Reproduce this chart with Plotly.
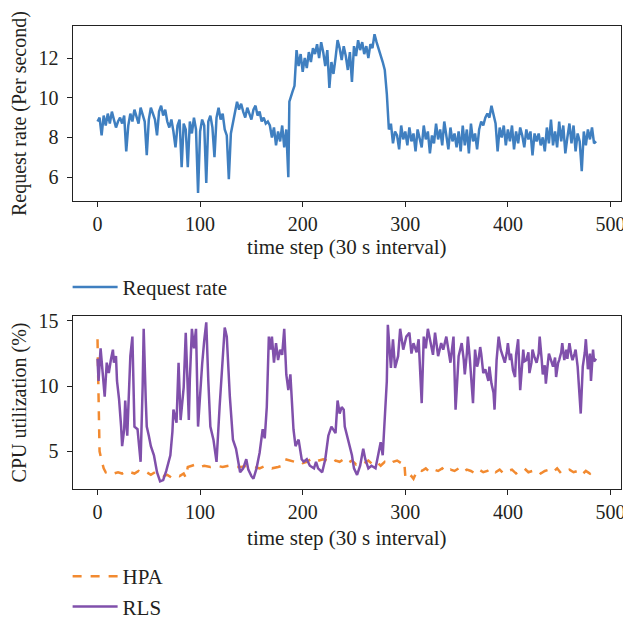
import plotly.graph_objects as go

# ---------------- data ----------------
req_x = list(range(0, 188, 2)) + [187, 188, 190, 192, 194] + list(range(196, 487, 2))
req_x = sorted(set(req_x))
req_y_part1 = [8.8, 9.0, 8.1, 9.1, 8.6, 9.2, 8.7, 9.3, 8.9, 8.5, 8.8, 9.0, 8.7, 9.1, 7.3, 8.6,
               9.2, 8.8, 9.4, 9.0, 8.7, 9.5, 9.2, 8.8, 7.1, 8.9, 9.5, 9.2, 8.9, 8.1, 9.3, 9.6,
               9.1, 9.4, 8.8, 8.5, 8.9, 8.3, 7.5, 8.6, 8.9, 6.5, 8.7, 8.4, 6.5, 8.8, 8.2, 9.0,
               8.4, 5.2, 8.3, 8.9, 8.6, 5.7, 8.8, 9.1, 8.5, 7.0, 9.0, 9.5, 8.9, 9.2, 8.4, 8.1,
               5.9, 8.2, 8.8, 9.2, 9.8, 9.4, 9.7, 9.3, 9.0, 9.5, 9.2, 8.9, 9.4, 9.6, 9.1, 9.3,
               8.8, 9.0, 8.7, 8.8, 8.6, 8.0, 8.5, 7.6, 8.3, 7.8, 8.6, 7.5, 8.4, 6.0]
req_y_part2 = [9.8, 10.0, 10.3, 10.6, 12.4]
req_y_part3 = [11.6, 12.2, 11.3, 12.0, 11.5, 12.3, 11.8, 12.5, 12.2, 12.7, 12.0, 12.8, 12.3, 11.6,
               12.4, 10.5, 11.8, 11.2, 12.0, 12.9, 12.5, 11.9, 12.6, 12.1, 11.4, 12.3, 10.8, 12.6,
               12.1, 12.9, 12.4, 12.8, 12.2, 12.6, 12.0, 12.7, 12.5, 13.2, 12.8, 12.5, 12.1, 11.8,
               11.4, 10.2, 8.4, 8.7, 7.7, 8.3,
               8.1, 7.4, 8.6, 7.9, 8.3, 7.6, 8.5, 7.8, 8.2, 7.3, 8.4, 8.0, 7.5, 8.6, 7.9, 8.3,
               7.2, 8.1, 7.7, 8.7, 7.9, 8.4, 7.6, 8.8, 8.1, 7.4, 8.5, 7.8, 8.2, 7.5, 8.3, 7.3,
               8.6, 7.6, 8.4, 7.2, 8.7, 7.8, 8.2, 7.4, 8.4, 8.8, 8.6, 9.0, 9.2, 9.0, 9.6, 9.1,
               8.7, 7.3, 8.5, 8.0, 8.6, 7.6, 8.4, 7.8, 8.6, 7.4, 8.3, 7.7, 8.5, 8.1, 7.5, 8.4,
               7.9, 8.3, 7.1, 8.2, 7.8, 8.2, 7.6, 8.0, 7.3, 8.5, 7.7, 8.9, 7.6, 8.3, 7.5, 8.8,
               7.8, 8.6, 7.2, 8.0, 8.7, 7.7, 8.6, 7.3, 8.2, 7.8, 6.3, 8.3, 7.6, 8.4, 7.9, 8.5,
               7.7, 7.8]
req_y = req_y_part1 + req_y_part2 + req_y_part3
req_x = req_x[:len(req_y)]

rls_x = [0, 1, 3, 5, 7, 9, 11, 13, 15, 16, 18, 19, 21, 23, 24, 26, 27, 29, 31, 32, 34, 36, 39, 42,
         44, 45, 47, 48, 50, 52, 55, 58, 61, 64, 67, 71, 73, 74, 77, 79, 81, 84, 86, 89, 90, 92,
         94, 96, 98, 100, 102, 104, 106, 108, 110, 113, 116, 119, 122, 124, 126, 129, 132, 135,
         139, 142, 145, 147, 150, 152, 155, 158, 161, 163, 165, 167, 169, 170, 172, 174, 176,
         178, 180, 182, 184, 186, 188, 191, 193, 196, 199, 201, 204, 207, 211, 213, 215, 219,
         222, 225, 228, 232, 234, 236, 238, 240, 241, 244, 248, 250, 253, 256, 259, 261, 264,
         267, 271, 274, 276, 278, 280, 282, 283, 286, 288, 290, 293, 295, 298, 301, 304, 306,
         308, 311, 313, 316, 318, 320, 322, 325, 327, 329, 332, 335, 337, 340, 342, 344, 347,
         349, 352, 355, 357, 358, 360, 361, 363, 366, 368, 370, 371, 373, 374, 376, 378, 381,
         382, 384, 386, 387, 389, 391, 393, 395, 397, 399, 400, 402, 403, 405, 407, 408, 410,
         412, 415, 416, 418, 420, 421, 423, 424, 426, 428, 430, 431, 433, 434, 436, 437, 439,
         440, 442, 444, 446, 447, 449, 450, 452, 453, 455, 457, 458, 460, 462, 463, 465, 466,
         468, 471, 473, 475, 476, 478, 480, 481, 483, 484, 486]
rls_y = [12.1, 10.4, 12.9, 10.9, 9.2, 11.8, 11.0, 12.0, 12.8, 11.8, 12.3, 10.4, 9.0, 6.9, 5.4,
         6.7, 8.9, 6.2, 11.0, 12.3, 13.8, 6.9, 6.7, 4.2, 10.0, 14.4, 9.0, 6.9, 6.2, 5.4, 4.7,
         3.4, 2.7, 2.8, 3.5, 4.7, 6.5, 8.2, 7.2, 11.8, 7.4, 9.9, 14.1, 7.4, 10.5, 14.4, 12.9,
         14.4, 6.9, 9.5, 11.7, 13.5, 14.9, 10.4, 6.9, 5.9, 4.2, 8.4, 12.3, 14.5, 13.8, 9.2, 5.9,
         5.2, 3.4, 3.7, 4.4, 3.6, 3.1, 2.9, 3.7, 4.9, 6.7, 6.0, 8.4, 13.8, 12.8, 13.8, 11.8, 13.3,
         12.0, 12.8, 12.4, 14.4, 10.9, 9.7, 10.9, 6.7, 5.4, 5.9, 4.4, 4.2, 4.4, 3.9, 3.7, 4.2,
         3.7, 3.4, 4.4, 6.2, 6.9, 6.4, 8.9, 7.9, 8.4, 8.2, 6.9, 5.9, 4.7, 3.7, 3.2, 3.9, 5.2,
         4.4, 3.7, 3.9, 3.7, 4.9, 5.7, 4.7, 7.9, 10.4, 14.7, 11.4, 13.6, 11.4, 12.3, 14.4, 12.8,
         13.8, 14.1, 12.5, 13.3, 12.6, 13.6, 8.7, 13.8, 12.9, 14.4, 13.3, 12.4, 14.1, 12.3,
         13.3, 12.8, 13.8, 12.6, 11.8, 13.8, 8.2, 12.3, 13.3, 12.0, 10.9, 12.5, 13.8, 12.0,
         8.7, 12.8, 11.5, 11.8, 13.0, 12.5, 11.0, 11.3, 10.4, 11.5, 10.2, 9.5, 8.2, 12.0, 13.8,
         12.8, 12.2, 11.8, 12.6, 13.3, 12.0, 12.5, 11.2, 10.7, 12.4, 13.6, 9.7, 12.8, 11.9,
         12.0, 12.6, 11.0, 11.8, 12.8, 12.2, 11.8, 12.5, 13.8, 12.0, 10.9, 11.6, 10.2, 11.8,
         12.5, 12.0, 11.5, 12.2, 10.7, 11.8, 12.0, 12.6, 13.3, 12.0, 12.8, 12.1, 13.3, 12.3,
         12.0, 12.5, 12.8, 11.5, 7.9, 11.5, 12.6, 13.6, 11.3, 12.5, 10.4, 12.8, 11.9, 12.1]

hpa_x = [0, 1, 2, 4, 6, 8, 12, 16, 20, 24, 28, 32, 36, 40, 44, 48, 52, 56, 60, 64, 68, 72, 76,
         80, 84, 86, 88, 92, 96, 100, 104, 110, 116, 122, 128, 134, 140, 146, 152, 158, 164,
         170, 176, 180, 183, 188, 192, 196, 200, 204, 208, 212, 216, 220, 224, 228, 232, 236,
         240, 244, 248, 252, 256, 260, 264, 268, 272, 276, 280, 284, 288, 292, 296, 299, 300,
         302, 306, 308, 312, 316, 320, 324, 328, 332, 336, 340, 344, 348, 352, 356, 360, 364,
         368, 372, 376, 380, 384, 388, 392, 396, 400, 404, 408, 412, 416, 420, 424, 428, 432,
         436, 440, 444, 448, 452, 456, 460, 464, 468, 472, 476, 480, 484, 486]
hpa_y = [13.6, 9.0, 5.0, 4.3, 3.7, 3.4, 3.5, 3.3, 3.4, 3.3, 3.5, 3.4, 3.3, 3.5, 3.3, 3.4, 3.2,
         3.4, 3.3, 3.1, 3.2, 3.0, 3.2, 3.1, 3.3, 3.0, 3.8, 3.9, 4.0, 3.8, 3.9, 3.8, 3.9, 3.8,
         3.9, 3.8, 3.8, 3.9, 3.8, 3.7, 3.9, 3.7, 3.8, 3.9, 4.4, 4.3, 4.2, 4.3, 4.1, 4.2, 4.4,
         4.2, 4.3, 4.4, 4.3, 4.1, 4.3, 4.2, 4.4, 4.1, 4.3, 4.0, 4.2, 4.1, 4.3, 4.0, 4.2, 3.9,
         4.2, 4.0, 4.2, 4.3, 4.1, 4.2, 3.1, 2.8, 3.1, 2.9, 3.6, 3.5, 3.7, 3.4, 3.6, 3.5, 3.7,
         3.4, 3.6, 3.5, 3.7, 3.4, 3.6, 3.5, 3.3, 3.6, 3.4, 3.5, 3.7, 3.4, 3.6, 3.3, 3.5, 3.6,
         3.3, 3.5, 3.7, 3.4, 3.5, 3.6, 3.3, 3.5, 3.6, 3.4, 3.7, 3.3, 3.5, 3.6, 3.4, 3.5, 3.2,
         3.5, 3.3, 3.6, 3.4]

x_ticks = [0, 100, 200, 300, 400, 500]
top_y_ticks = [6, 8, 10, 12]
bottom_y_ticks = [5, 10, 15]

# ---------------- figure ----------------
FONT = "Liberation Serif"
TXT = "#231f20"
BLUE = "#3f7fc0"
ORANGE = "#f28a30"
PURPLE = "#8050ab"

# page body has an 8px margin; figure pixels = screen pixels - 8
OFF = 8
W, H = 631 - OFF, 627 - OFF


def px_x(sx):
    return (sx - OFF) / W


def px_y(sy):
    return 1 - (sy - OFF) / H


fig = go.Figure()
fig.add_trace(go.Scatter(x=req_x, y=req_y, mode="lines", name="Request rate",
                         line=dict(color=BLUE, width=2.5), xaxis="x", yaxis="y",
                         legend="legend", showlegend=True))
fig.add_trace(go.Scatter(x=hpa_x, y=hpa_y, mode="lines", name="HPA",
                         line=dict(color=ORANGE, width=2.5, dash="dash"), xaxis="x2", yaxis="y2",
                         legend="legend2", showlegend=True))
fig.add_trace(go.Scatter(x=rls_x, y=rls_y, mode="lines", name="RLS",
                         line=dict(color=PURPLE, width=2.5), xaxis="x2", yaxis="y2",
                         legend="legend2", showlegend=True))

TICK_FONT = dict(family=FONT, size=20, color=TXT)
TITLE_FONT = dict(family=FONT, size=21, color=TXT)
YTITLE_FONT = dict(family=FONT, size=20, color=TXT)
LEG_FONT = dict(family=FONT, size=21, color=TXT)
axis_common = dict(showline=True, linecolor="#222222", linewidth=1, mirror=True,
                   ticks="outside", ticklen=5, tickcolor="#222222", showgrid=False,
                   zeroline=False, tickfont=TICK_FONT)

fig.update_layout(
    width=W, height=H,
    margin=dict(l=0, r=0, t=0, b=0),
    paper_bgcolor="white", plot_bgcolor="white",
    font=dict(family=FONT, size=20, color=TXT),
    showlegend=True,
    xaxis=dict(domain=[px_x(73), px_x(625)], range=[-24.3, 510.3], tickvals=x_ticks,
               title=dict(text="time step (30 s interval)", standoff=5, font=TITLE_FONT),
               anchor="y", **axis_common),
    yaxis=dict(domain=[px_y(198), px_y(20.5)], range=[4.8, 13.6], tickvals=top_y_ticks,
               title=dict(text="Request rate (Per second)", standoff=7, font=YTITLE_FONT),
               ticklabelstandoff=4,
               anchor="x", **axis_common),
    xaxis2=dict(domain=[px_x(73), px_x(625)], range=[-24.3, 510.3], tickvals=x_ticks,
                title=dict(text="time step (30 s interval)", standoff=8, font=TITLE_FONT),
                anchor="y2", **axis_common),
    yaxis2=dict(domain=[px_y(491), px_y(314.7)], range=[2.1, 15.4],
                tickvals=bottom_y_ticks,
                title=dict(text="CPU utilization (%)", standoff=7, font=YTITLE_FONT),
                ticklabelstandoff=4,
                anchor="x2", **axis_common),
    legend=dict(x=px_x(68), y=px_y(265), xanchor="left", yanchor="top",
                bgcolor="rgba(0,0,0,0)", itemwidth=45, font=LEG_FONT),
    legend2=dict(x=px_x(68), y=px_y(559), xanchor="left", yanchor="top",
                 bgcolor="rgba(0,0,0,0)", itemwidth=45, font=LEG_FONT),
)

fig.write_html("out.html")
